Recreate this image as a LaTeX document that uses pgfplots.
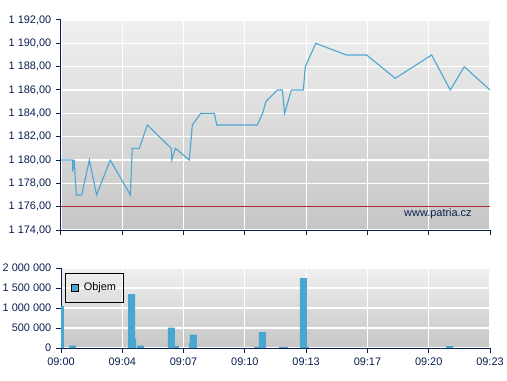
\documentclass[border=0pt]{standalone}
\usepackage{pgfplots}
\pgfplotsset{compat=1.18}
\usepackage{fontspec}
\setmainfont{Liberation Sans}
\definecolor{navy}{RGB}{10,30,80}
\definecolor{linec}{RGB}{80,168,210}
\definecolor{barc}{RGB}{72,167,206}
\definecolor{gtop}{RGB}{240,240,240}
\definecolor{gbot}{RGB}{198,198,198}
\definecolor{refred}{RGB}{175,45,45}
\begin{document}
\begin{tikzpicture}
\useasboundingbox (0,0) rectangle (380.25pt,285pt);
\pgfplotsset{
 every axis/.append style={
  scale only axis, width=321.75pt,
  xmin=0, xmax=23,
  xtick={0,3.2857,6.5714,9.8571,13.1429,16.4286,19.7143,23},
  axis x line*=bottom, axis y line*=left,
  axis line style={-, navy, line width=0.75pt},
  tick style={navy, line width=0.75pt},
  tick align=outside,
  major tick length=3.75pt,
  grid=major,
  major grid style={white, line width=0.9pt},
  axis background/.style={top color=gtop, bottom color=gbot},
  ticklabel style={font=\fontsize{8.2}{9}\selectfont, text=navy},
  /pgf/number format/assume math mode=true,
  scaled ticks=false,
 }
}
% price axis
\begin{axis}[
  at={(45.75pt,112.5pt)}, anchor=south west, height=157.5pt,
  ymin=1174, ymax=1192, ytick={1174,1176,...,1192},
  xticklabels={},
  yticklabel style={/pgf/number format/.cd, fixed, fixed zerofill, precision=2, use comma, 1000 sep={\ }},
]
\addplot[refred, line width=0.75pt] coordinates {(0,1176) (23,1176)};
\addplot[linec, line width=0.85pt] coordinates {
(0,1180) (0.63,1180) (0.63,1179) (0.71,1180) (0.82,1177) (1.11,1177) (1.52,1180) (1.91,1177)
(2.64,1180) (3.72,1177) (3.82,1181) (4.20,1181) (4.63,1183) (5.91,1181) (5.94,1180) (6.13,1181)
(6.88,1180) (7.04,1183) (7.49,1184) (8.22,1184) (8.35,1183) (10.52,1183) (10.81,1184) (10.98,1185)
(11.60,1186) (11.87,1186) (11.99,1184) (12.35,1186) (12.99,1186) (13.10,1188) (13.66,1190)
(15.30,1189) (16.39,1189) (17.92,1187) (19.87,1189) (20.87,1186) (21.62,1188) (23,1186)};
\node[text=navy, font=\fontsize{8.2}{9}\selectfont] at (axis cs:20.21,1175.43) {www.patria.cz};
\end{axis}
% volume axis
\begin{axis}[
  at={(45.75pt,24pt)}, anchor=south west, height=60pt,
  ymin=0, ymax=2000000, ytick={0,500000,1000000,1500000,2000000},
  xticklabels={09:00,09:04,09:07,09:10,09:13,09:17,09:20,09:23},
  yticklabel style={/pgf/number format/.cd, fixed, precision=0, 1000 sep={\ }},
  legend style={at={(0.0093,0.9375)}, anchor=north west, draw=black, fill=none,
    line width=0.75pt, font=\fontsize{8.2}{9}\selectfont, inner xsep=4pt, inner ysep=5pt},
  legend image code/.code={\draw[fill=barc, draw=black, line width=0.6pt] (0pt,-2.6pt) rectangle (5.2pt,2.6pt); \path (7.4pt,0pt);},
]
\addplot[ybar, bar shift=0pt, bar width=0.08, fill=barc, draw=none, forget plot] coordinates {(3.99,225000) (6.89,125000)};
\addplot[ybar, bar shift=0pt, bar width=0.11, fill=barc, draw=none, forget plot] coordinates {(13.24,25000)};
\addplot[ybar, bar shift=0pt, bar width=0.21, fill=barc, draw=none, forget plot] coordinates {(6.22,50000)};
\addplot[ybar, bar shift=0pt, bar width=0.27, fill=barc, draw=none, forget plot] coordinates {(10.48,28000)};
\addplot[ybar, bar shift=0pt, bar width=0.48, fill=barc, draw=none, forget plot] coordinates {(11.93,25000)};
\addplot[ybar, bar shift=0pt, bar width=0.375, fill=barc, draw=none] coordinates {
(-0.04,1050000) (0.62,58000) (3.78,1350000) (4.26,58000) (5.92,508000) (7.10,333000)
(10.80,400000) (13.00,1750000) (20.83,50000)};
\addlegendentry{Objem}
\end{axis}
\end{tikzpicture}
\end{document}
